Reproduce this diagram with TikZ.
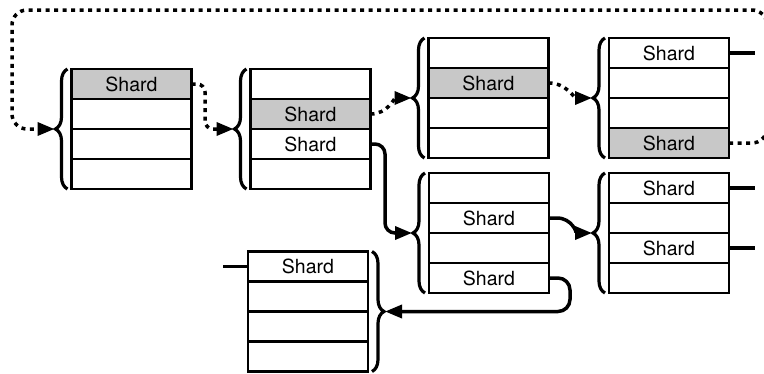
\documentclass[tikz,border=0pt]{standalone}
\usepackage{fontspec}
\setmainfont{TeX Gyre Heros}
\usetikzlibrary{arrows.meta,decorations.pathreplacing}
\definecolor{shardgray}{RGB}{200,200,200}
\tikzset{
  row/.style={draw, line width=2.6pt, minimum width=120pt, minimum height=30pt,
    inner sep=0pt, outer sep=0pt, fill=white, font=\fontsize{19.5}{19.5}\selectfont},
  hl/.style={row, fill=shardgray},
  brc/.style={decorate, decoration={brace, amplitude=12pt}, line width=3.2pt},
  conn/.style={line width=3.5pt, -{Triangle[length=17pt,width=13pt]}},
  dots/.style={conn, dash pattern=on 4pt off 4.5pt},
  stub/.style={line width=3.5pt}
}
\begin{document}
\begin{tikzpicture}[x=1pt,y=-1pt]
\clip (0,0) rectangle (764,373);
% box 1
\node[hl] (A1) at (131.5,84) {Shard};
\node[row,anchor=north] (A2) at (A1.south) {};
\node[row,anchor=north] (A3) at (A2.south) {};
\node[row,anchor=north] (A4) at (A3.south) {};
% box 2
\node[row] (B1) at (310.5,84) {};
\node[hl,anchor=north] (B2) at (B1.south) {Shard};
\node[row,anchor=north] (B3) at (B2.south) {Shard};
\node[row,anchor=north] (B4) at (B3.south) {};
% box 3
\node[row] (C1) at (488.5,53) {};
\node[hl,anchor=north] (C2) at (C1.south) {Shard};
\node[row,anchor=north] (C3) at (C2.south) {};
\node[row,anchor=north] (C4) at (C3.south) {};
% box 4
\node[row] (D1) at (669,53) {Shard};
\node[row,anchor=north] (D2) at (D1.south) {};
\node[row,anchor=north] (D3) at (D2.south) {};
\node[hl,anchor=north] (D4) at (D3.south) {Shard};
% box 5
\node[row] (E1) at (489,188) {};
\node[row,anchor=north] (E2) at (E1.south) {Shard};
\node[row,anchor=north] (E3) at (E2.south) {};
\node[row,anchor=north] (E4) at (E3.south) {Shard};
% box 6
\node[row] (F1) at (669,188) {Shard};
\node[row,anchor=north] (F2) at (F1.south) {};
\node[row,anchor=north] (F3) at (F2.south) {Shard};
\node[row,anchor=north] (F4) at (F3.south) {};
% box 7
\node[row] (G1) at (308,266.5) {Shard};
\node[row,anchor=north] (G2) at (G1.south) {};
\node[row,anchor=north] (G3) at (G2.south) {};
\node[row,anchor=north] (G4) at (G3.south) {};
% braces
\draw[brc] ([xshift=-4pt]A4.south west) -- ([xshift=-4pt]A1.north west);
\draw[brc] ([xshift=-4pt]B4.south west) -- ([xshift=-4pt]B1.north west);
\draw[brc] ([xshift=-4pt]C4.south west) -- ([xshift=-4pt]C1.north west);
\draw[brc] ([xshift=-4pt]D4.south west) -- ([xshift=-4pt]D1.north west);
\draw[brc] ([xshift=-4pt]E4.south west) -- ([xshift=-4pt]E1.north west);
\draw[brc] ([xshift=-4pt]F4.south west) -- ([xshift=-4pt]F1.north west);
\draw[brc] ([xshift=4pt]G1.north east) -- ([xshift=4pt]G4.south east);
% brace tips
\coordinate (TA) at ([xshift=-17pt]A2.south west);
\coordinate (TB) at ([xshift=-17pt]B2.south west);
\coordinate (TC) at ([xshift=-17pt]C2.south west);
\coordinate (TD) at ([xshift=-17pt]D2.south west);
\coordinate (TE) at ([xshift=-17pt]E2.south west);
\coordinate (TF) at ([xshift=-17pt]F2.south west);
\coordinate (TG) at ([xshift=17pt]G2.south east);
% stub ends
\coordinate (SD) at (755,53);
\coordinate (SF1) at (755,188);
\coordinate (SF3) at (755,248);
\coordinate (SG) at (223,266.5);
% dotted connectors
\draw[dots, rounded corners=15pt] (D4.east) -- (767,143) -- (767,10) -- (12,10) |- (TA);
\draw[dots, rounded corners=8pt] (A1.east) -- (205,84) |- (TB);
\draw[dots] (B2.east) to[out=0,in=180] (TC);
\draw[dots] (C2.east) to[out=0,in=180] (TD);
% solid connectors
\draw[conn, rounded corners=10pt] (B3.east) -- (385,144) |- (TE);
\draw[conn] (E2.east) -- ++(8,0) to[out=0,in=180] (TF);
\draw[conn, rounded corners=12pt] (E4.east) -- (570,278) |- (TG);
% stubs
\draw[stub] (D1.east) -- (SD);
\draw[stub] (F1.east) -- (SF1);
\draw[stub] (F3.east) -- (SF3);
\draw[stub] (G1.west) -- (SG);
\end{tikzpicture}
\end{document}
